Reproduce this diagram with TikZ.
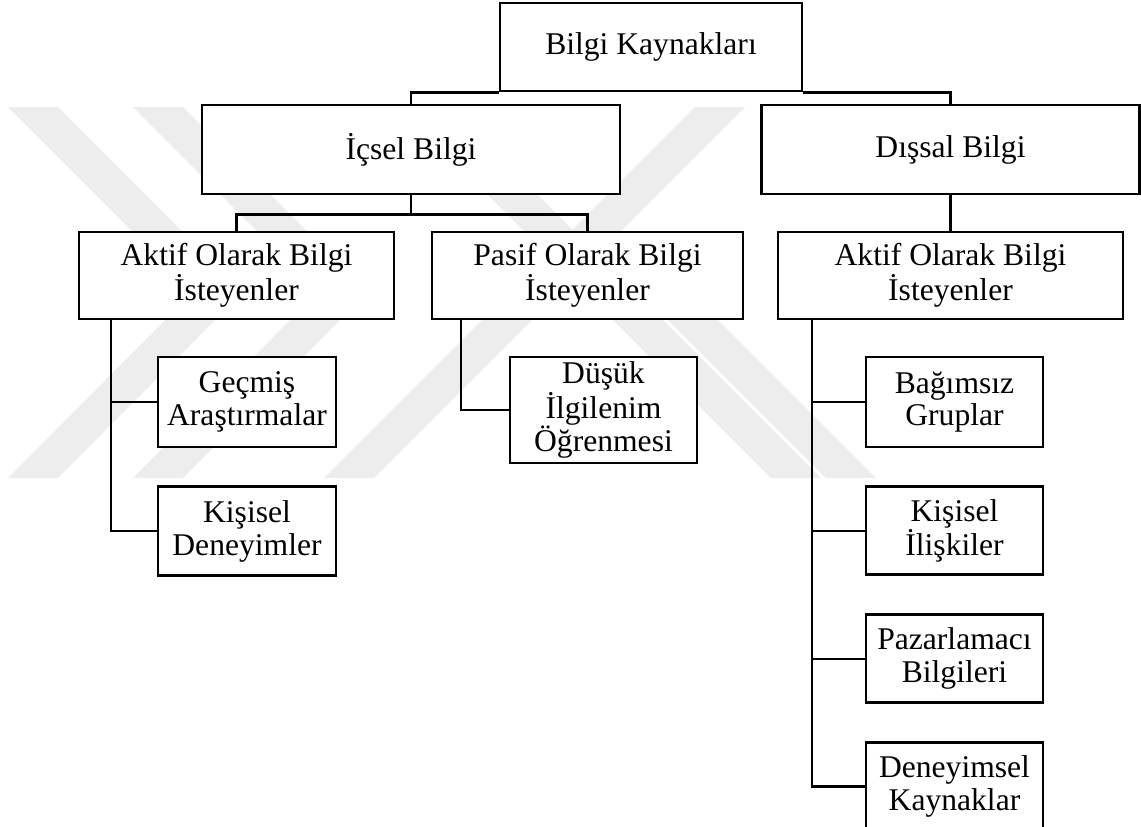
\documentclass[tikz,border=0pt]{standalone}
\usepackage{fontspec}
\setmainfont{Liberation Serif}
\usetikzlibrary{positioning, calc}

\begin{document}
\begin{tikzpicture}[x=0.5pt, y=-0.5pt, node distance=18.5pt,
    kutu/.style={draw, line width=1.4pt, inner sep=0pt, fill=white, align=center,
                 font=\fontsize{15.8}{16.3}\selectfont},
    hat/.style={line width=1.1pt},
    filigran/.style={fill=black!7}]
            \useasboundingbox (0,0) rectangle (1141,826);
            % 背景水印(浅灰)
            \fill[filigran] (8,107) -- (58,107) -- (243,292) -- (58,478) -- (8,478) -- (193,292) -- cycle;
            \fill[filigran] (133,107) -- (183,107) -- (368,292) -- (183,478) -- (133,478) -- (318,292) -- cycle;
            \fill[filigran] (695,107) -- (745,107) -- (374,478) -- (324,478) -- cycle;
            \fill[filigran] (400,107) -- (450,107) -- (821,478) -- (771,478) -- cycle;
            \fill[filigran] (640,292) -- (690,292) -- (876,478) -- (826,478) -- cycle;
            % 第一、二层
            \node[kutu, minimum width=151pt, minimum height=44pt] (kaynak) at (651,47) {Bilgi Kaynakları};
            \node[kutu, minimum width=209pt, minimum height=44.5pt] (icsel) at (411,149.5) {İçsel Bilgi};
            \node[kutu, minimum width=189pt, minimum height=44.5pt] (dissal) at (950.5,149.5) {Dışsal Bilgi};
            % 第三层
            \node[kutu, minimum width=157.5pt, minimum height=43.5pt] (aktifA) at (236.5,275.5) {Aktif Olarak Bilgi\\İsteyenler};
            \node[kutu, minimum width=155.5pt, minimum height=43.5pt] (pasif) at (587.5,275.5) {Pasif Olarak Bilgi\\İsteyenler};
            \node[kutu, minimum width=172.5pt, minimum height=43.5pt] (aktifB) at (950.5,275.5) {Aktif Olarak Bilgi\\İsteyenler};
            % 第四层
            \node[kutu, minimum width=89pt, minimum height=45pt] (gecmis) at (247,402) {Geçmiş\\Araştırmalar};
            \node[kutu, minimum width=89pt, minimum height=44.5pt, below=of gecmis] (kisiselA) {Kişisel\\Deneyimler};
            \node[kutu, minimum width=93.5pt, minimum height=53pt] (dusuk) at (603.5,410) {Düşük\\İlgilenim\\Öğrenmesi};
            \node[kutu, minimum width=88.5pt, minimum height=45pt] (bagimsiz) at (954.5,402) {Bağımsız\\Gruplar};
            \node[kutu, minimum width=88.5pt, minimum height=44pt, below=of bagimsiz] (kisiselB) {Kişisel\\İlişkiler};
            \node[kutu, minimum width=88.5pt, minimum height=44pt, below=of kisiselB] (pazar) {Pazarlamacı\\Bilgileri};
            \node[kutu, minimum width=88.5pt, minimum height=44pt, below=of pazar] (deney) {Deneyimsel\\Kaynaklar};
            % 连线
            \draw[hat] (kaynak.south west) -| (icsel.north);
            \draw[hat] (kaynak.south east) -| (dissal.north);
            \coordinate (c1) at ($(icsel.south)+(0,19)$);
            \draw[hat] (icsel.south) -- (c1);
            \draw[hat] (aktifA.north) |- (c1) -| (pasif.north);
            \draw[hat] (dissal.south) -- (aktifB.north);
            % 分支(竖线+横线)
            \coordinate (a1) at ($(aktifA.south west)+(33,0)$);
            \draw[hat] (a1) |- (kisiselA.west);
            \draw[hat] (gecmis.west) -- (gecmis.west -| a1);
            \coordinate (p1) at ($(pasif.south west)+(30,0)$);
            \draw[hat] (p1) |- (dusuk.west);
            \coordinate (b1) at ($(aktifB.south west)+(35,0)$);
            \draw[hat] (b1) |- (deney.west);
            \foreach \n in {bagimsiz, kisiselB, pazar}
                \draw[hat] (\n.west) -- (\n.west -| b1);
        \end{tikzpicture}
\end{document}
